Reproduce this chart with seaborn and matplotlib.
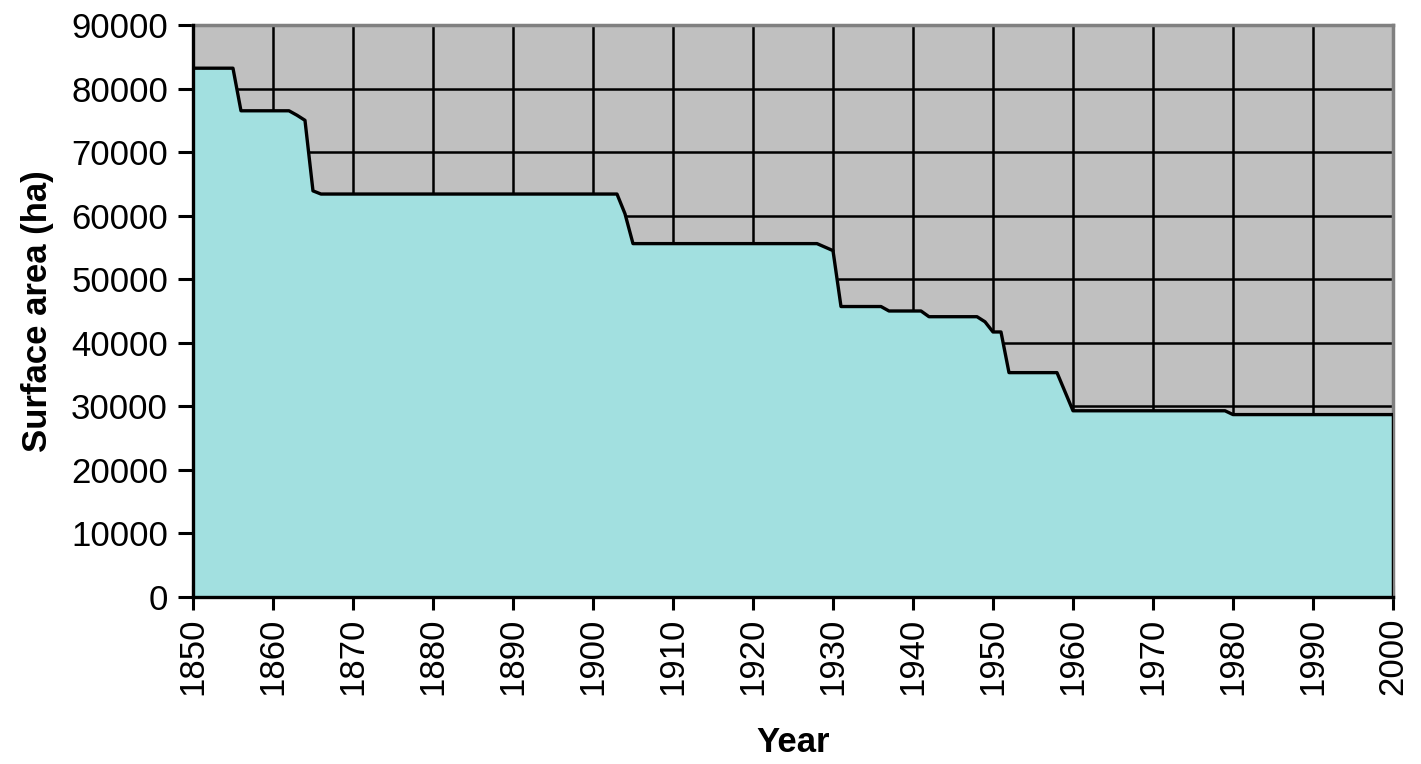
import matplotlib
matplotlib.use("Agg")
import matplotlib.pyplot as plt
import seaborn as sns
import pandas as pd

# Breakpoints of the surface area curve
years = [1850, 1855, 1856, 1862, 1863, 1864, 1865, 1866, 1903, 1904, 1905,
         1928, 1930, 1931, 1936, 1937, 1941, 1942, 1948, 1949, 1950, 1951,
         1952, 1958, 1960, 1979, 1980, 2000]
area_ha = [83200, 83200, 76500, 76500, 75800, 75000, 63900, 63400, 63400, 60300, 55600,
           55600, 54500, 45700, 45700, 45000, 45000, 44100, 44100, 43300, 41700, 41700,
           35300, 35300, 29300, 29300, 28700, 28700]

x_ticks = list(range(1850, 2001, 10))
y_ticks = list(range(0, 90001, 10000))

df = pd.DataFrame({"Year": years, "Area": area_ha})

sns.set_style("white")
plt.rcParams["font.family"] = ["Liberation Sans", "DejaVu Sans"]
plt.rcParams.update({
    "text.color": "black",
    "axes.labelcolor": "black",
    "xtick.color": "black",
    "ytick.color": "black",
    "xtick.bottom": True,
    "ytick.left": True,
})

fig = plt.figure(figsize=(14.21, 7.64), dpi=100)
ax = fig.add_axes([0.1358, 0.2186, 0.8445, 0.7487])
ax.set_facecolor("#C0C0C0")

# grid
ax.set_axisbelow(True)
ax.grid(True, color="black", linewidth=1.8)

# area + outline
ax.fill_between(df["Year"], df["Area"], 0, color="#A2E0E0", zorder=2)
sns.lineplot(data=df, x="Year", y="Area", ax=ax, color="black", linewidth=2.4, zorder=3)
ax.vlines(years[-1], 0, area_ha[-1], color="black", linewidth=2.4, zorder=3)

ax.set_xlim(years[0], years[-1])
ax.set_ylim(y_ticks[0], y_ticks[-1])
ax.set_xticks(x_ticks)
ax.set_yticks(y_ticks)
ax.set_xticklabels([str(t) for t in x_ticks], rotation=90)
ax.tick_params(axis="x", direction="inout", length=18, width=2.2, pad=6, labelsize=25)
ax.tick_params(axis="y", direction="out", length=11, width=2.2, pad=7, labelsize=25)

for side in ["left", "bottom"]:
    ax.spines[side].set_color("black")
    ax.spines[side].set_linewidth(2.4)
    ax.spines[side].set_zorder(4)
for side in ["top", "right"]:
    ax.spines[side].set_visible(True)
    ax.spines[side].set_color("#808080")
    ax.spines[side].set_linewidth(2.5)

ax.set_xlabel("Year", fontsize=25, fontweight="bold", labelpad=22)
ax.set_ylabel("Surface area (ha)", fontsize=25, fontweight="bold", labelpad=12)

fig.savefig("out.png", dpi=100)
